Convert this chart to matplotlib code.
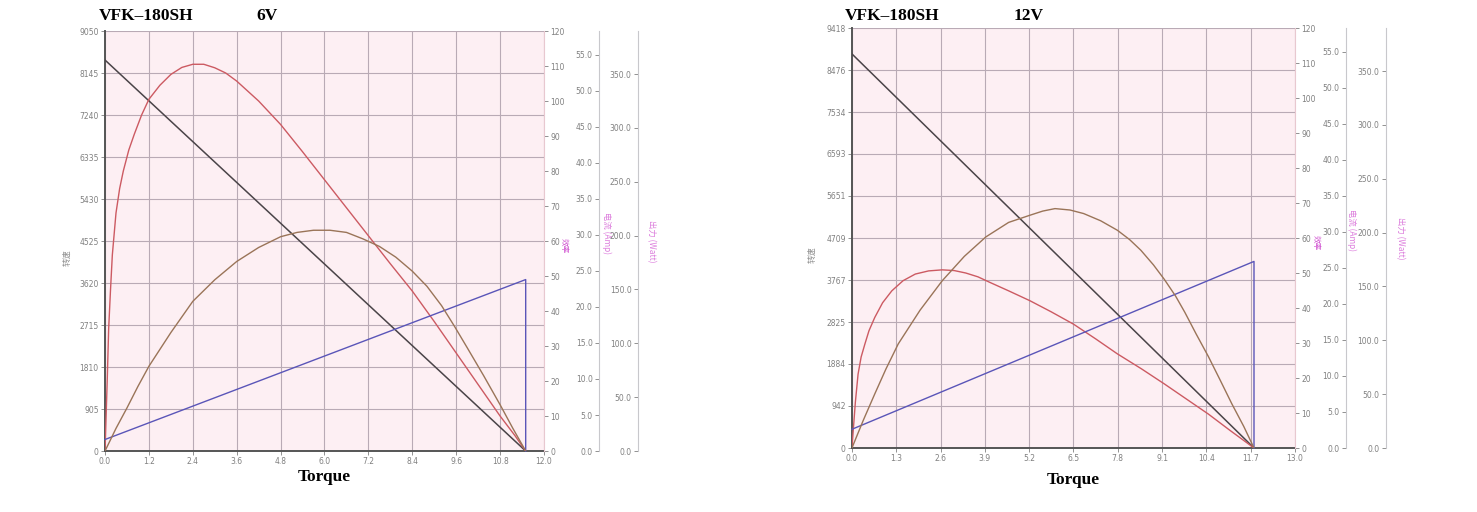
import matplotlib
matplotlib.use('Agg')
import matplotlib.pyplot as plt

plt.rcParams['font.family'] = ['DejaVu Sans', 'Noto Sans CJK SC']

# ---- 6V データ ----
title_6v = 'VFK–180SH'
volt_6v = '6V'
xticks_6v = [0.0, 1.2, 2.4, 3.6, 4.8, 6.0, 7.2, 8.4, 9.6, 10.8, 12.0]
speed_ticks_6v = [0, 905, 1810, 2715, 3620, 4525, 5430, 6335, 7240, 8145, 9050]
speed_t_6v = [0.0, 11.5]
speed_6v = [8425, 0]
cur_t_6v = [0.0, 11.5, 11.5]
cur_6v = [1.6, 23.8, 0.0]
eff_t_6v = [0.0, 0.03, 0.06, 0.1, 0.15, 0.2, 0.3, 0.4, 0.5, 0.65, 0.8, 1.0, 1.2,
            1.5, 1.8, 2.1, 2.4, 2.7, 3.0, 3.3, 3.6, 4.2, 4.8, 5.4, 6.0, 6.6,
            7.2, 7.8, 8.4, 9.0, 9.6, 10.2, 10.8, 11.2, 11.5]
eff_6v = [0.0, 10.0, 20.0, 35.0, 46.0, 56.0, 68.0, 75.0, 80.0, 86.0, 90.5, 96.0,
          100.5, 104.5, 107.6, 109.6, 110.5, 110.5, 109.5, 108.0, 105.7, 100.0,
          93.3, 85.5, 77.5, 69.5, 61.5, 53.5, 45.7, 37.0, 28.0, 19.0, 10.0, 4.5, 0.0]
pow_t_6v = [0.0, 0.3, 0.6, 0.9, 1.2, 1.8, 2.4, 3.0, 3.6, 4.2, 4.8, 5.25, 5.7,
            6.15, 6.6, 7.05, 7.5, 7.95, 8.4, 8.8, 9.2, 9.55, 9.9, 10.35, 10.8,
            11.15, 11.5]
pow_6v = [0.0, 21.0, 40.0, 60.0, 78.7, 110.0, 139.0, 159.0, 176.0, 189.0, 199.0,
          203.0, 205.0, 205.0, 203.0, 197.0, 190.0, 180.0, 167.0, 153.0, 135.0,
          116.0, 96.0, 70.0, 43.0, 21.0, 0.0]

# ---- 12V データ ----
title_12v = 'VFK–180SH'
volt_12v = '12V'
xticks_12v = [0.0, 1.3, 2.6, 3.9, 5.2, 6.5, 7.8, 9.1, 10.4, 11.7, 13.0]
speed_ticks_12v = [0, 942, 1884, 2825, 3767, 4709, 5651, 6593, 7534, 8476, 9418]
speed_t_12v = [0.0, 11.8]
speed_12v = [8837, 0]
cur_t_12v = [0.0, 11.8, 11.8]
cur_12v = [2.6, 25.9, 0.0]
eff_t_12v = [0.0, 0.03, 0.06, 0.1, 0.18, 0.27, 0.38, 0.5, 0.67, 0.9, 1.17, 1.5,
             1.86, 2.25, 2.65, 3.0, 3.34, 3.7, 4.03, 4.6, 5.22, 5.85, 6.5, 7.15,
             7.79, 8.5, 9.17, 9.8, 10.46, 11.1, 11.8]
eff_12v = [0.0, 4.0, 7.8, 13.0, 21.1, 26.0, 29.7, 33.5, 37.3, 41.5, 44.9, 47.8,
           49.7, 50.6, 50.9, 50.7, 50.0, 48.9, 47.4, 44.9, 42.1, 38.9, 35.4, 31.2,
           26.9, 22.6, 18.3, 14.1, 9.7, 5.0, 0.0]
pow_t_12v = [0.0, 0.33, 0.67, 1.0, 1.36, 2.0, 2.65, 3.3, 3.93, 4.6, 5.22, 5.6,
             5.96, 6.4, 6.8, 7.3, 7.79, 8.15, 8.48, 8.85, 9.17, 9.5, 9.77, 10.1,
             10.46, 10.8, 11.15, 11.5, 11.8]
pow_12v = [0.0, 25.5, 50.2, 73.5, 96.7, 128.0, 155.3, 178.0, 196.0, 209.5, 216.1,
           220.0, 222.3, 221.0, 217.7, 211.0, 202.2, 193.5, 183.6, 170.0, 156.5,
           141.0, 126.0, 106.0, 85.0, 63.5, 41.0, 20.0, 0.0]

eff_ticks = list(range(0, 121, 10))
cur_ticks = [i * 5.0 for i in range(12)]
pow_ticks = [i * 50.0 for i in range(8)]

BG = '#fdeff3'
GRID = '#b9aab5'
TICKC = '#808080'
MAG = '#d050d0'
SERIF = 'Liberation Serif'
CJK = ['Noto Sans CJK SC', 'DejaVu Sans']


def small_ticks(ax, axis='y'):
    ax.tick_params(axis=axis, labelsize=5.5, labelcolor=TICKC, colors=TICKC,
                   length=3, width=0.6, pad=1.5)


def panel(fig, rect, title, volt, volt_x, title_y, xticks, sticks,
          st, sv, ct, cv, et, ev, pt, pv, off3, off4, lbl, xpad):
    ax = fig.add_axes(rect)
    ax.set_facecolor(BG)
    ax.set_xlim(xticks[0], xticks[-1])
    ax.set_ylim(sticks[0], sticks[-1])
    ax.set_xticks(xticks)
    ax.set_xticklabels(['%.1f' % v for v in xticks])
    ax.set_yticks(sticks)
    ax.grid(True, color=GRID, lw=0.8)
    ax.set_axisbelow(True)
    small_ticks(ax, 'both')
    for s in ['top', 'right']:
        ax.spines[s].set_visible(False)
    ax.spines['left'].set_color('#555555')
    ax.spines['bottom'].set_color('#555555')
    ax.spines['left'].set_linewidth(1.4)
    ax.spines['bottom'].set_linewidth(1.4)

    # 回転数
    ax.plot(st, sv, color='#4a4448', lw=1.1, zorder=5)

    # 効率 0-120
    ax2 = ax.twinx()
    ax2.set_ylim(0, 120)
    ax2.set_yticks(eff_ticks)
    for s in ['top', 'left', 'bottom']:
        ax2.spines[s].set_visible(False)
    ax2.spines['right'].set_color('#e8c8d0')
    small_ticks(ax2)
    ax2.plot(et, ev, color='#cc5a62', lw=1.0, zorder=5)

    # 電流
    ax3 = ax.twinx()
    ax3.set_ylim(0, 58.3)
    ax3.set_yticks(cur_ticks)
    ax3.set_yticklabels(['%.1f' % v for v in cur_ticks])
    for s in ['top', 'right', 'bottom']:
        ax3.spines[s].set_visible(False)
    ax3.spines['left'].set_visible(True)
    ax3.spines['left'].set_position(('axes', off3))
    ax3.spines['left'].set_color('#c8c8cc')
    ax3.yaxis.set_ticks_position('left')
    small_ticks(ax3)
    ax3.plot(ct, cv, color='#5a55b8', lw=1.0, zorder=5, clip_on=False)

    # 出力
    ax4 = ax.twinx()
    ax4.set_ylim(0, 390)
    ax4.set_yticks(pow_ticks)
    ax4.set_yticklabels(['%.1f' % v for v in pow_ticks])
    for s in ['top', 'right', 'bottom']:
        ax4.spines[s].set_visible(False)
    ax4.spines['left'].set_visible(True)
    ax4.spines['left'].set_position(('axes', off4))
    ax4.spines['left'].set_color('#c8c8cc')
    ax4.yaxis.set_ticks_position('left')
    small_ticks(ax4)
    ax4.plot(pt, pv, color='#9a7458', lw=1.0, zorder=5)

    # ラベル
    ax.text(lbl[0], 0.46, '转速', transform=ax.transAxes, rotation=90,
            fontsize=6, color='#909090', family=CJK, ha='center', va='center')
    ax.text(lbl[1], 0.49, '效率', transform=ax.transAxes, rotation=270,
            fontsize=5.5, color=MAG, family=CJK, ha='center', va='center')
    ax.text(lbl[2], 0.52, '电流 (Amp)', transform=ax.transAxes, rotation=270,
            fontsize=6, color=MAG, family=CJK, ha='center', va='center', alpha=0.75)
    ax.text(lbl[3], 0.50, '出力 (Watt)', transform=ax.transAxes, rotation=270,
            fontsize=6, color=MAG, family=CJK, ha='center', va='center', alpha=0.75)

    ax.text(-0.015, title_y, title, transform=ax.transAxes, fontsize=12.5,
            fontweight='bold', family=SERIF, ha='left', va='center')
    ax.text(volt_x, title_y, volt, transform=ax.transAxes, fontsize=12.5,
            fontweight='bold', family=SERIF, ha='left', va='center')
    ax.set_xlabel('Torque', fontsize=12.5, fontweight='bold', family=SERIF,
                  labelpad=xpad)
    return ax


fig = plt.figure(figsize=(14.77, 5.12), dpi=100)
fig.patch.set_facecolor('white')

panel(fig, [0.0711, 0.1191, 0.2972, 0.8203], title_6v, volt_6v, 0.345, 1.035,
      xticks_6v, speed_ticks_6v, speed_t_6v, speed_6v, cur_t_6v, cur_6v,
      eff_t_6v, eff_6v, pow_t_6v, pow_6v, 1.125, 1.214,
      [-0.087, 1.045, 1.143, 1.244], 2)
panel(fig, [0.5768, 0.125, 0.2999, 0.8203], title_12v, volt_12v, 0.365, 1.029,
      xticks_12v, speed_ticks_12v, speed_t_12v, speed_12v, cur_t_12v, cur_12v,
      eff_t_12v, eff_12v, pow_t_12v, pow_12v, 1.115, 1.205,
      [-0.09, 1.048, 1.128, 1.237], 6)

fig.savefig('out.png', dpi=100, facecolor='white')
